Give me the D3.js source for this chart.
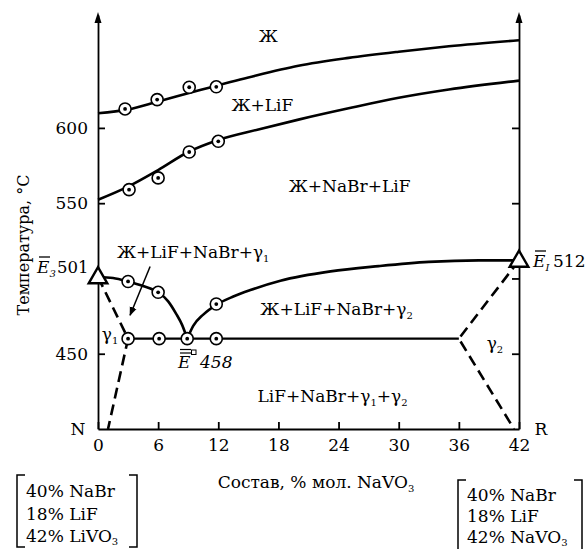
<!DOCTYPE html>
<html>
<head>
<meta charset="utf-8">
<script src="https://cdn.jsdelivr.net/npm/d3@7"></script>
<style>
  body { margin: 0; background: #fff; }
  svg text { font-family: "DejaVu Serif", "Liberation Serif", "Noto Serif", serif; fill: #000; }
</style>
</head>
<body>
<svg id="chart" width="588" height="549"></svg>
<script>
// состав, % мол. NaVO3 / температура, °C
var xTicks = [0, 6, 12, 18, 24, 30, 36, 42];
var yTicks = [450, 500, 550, 600];

// линии на диаграмме
var liquidusLiF = [[0, 609.7], [3, 612.3], [6, 617.6], [10, 624.8], [15, 633.5], [20, 641.3], [25, 646.5], [30, 650.6], [35, 654.2], [42, 658.2]];
var liquidusNaBr = [[0, 552.3], [3, 561], [6, 572], [9, 584], [12, 592], [16, 599], [20, 605.5], [25, 613], [30, 620], [35, 625.5], [42, 631.4]];
var curveE3 = [[0, 501], [1.5, 500.3], [3, 498], [4.5, 495], [6, 490.8], [7, 484.8], [7.8, 476.5], [8.4, 469], [8.9, 460]];
var curveE1 = [[8.9, 460], [9.5, 468.5], [10.5, 476], [11.8, 482.5], [13.5, 488], [15.2, 492.3], [18.2, 498.5], [23.2, 504.7], [28, 508.2], [33, 511], [38, 512], [42, 512]];
var eutecticLine = [[3, 460], [36, 460]];
var dashLeft = [[0, 501], [3, 460], [1, 400]];
var dashRight = [[42, 512], [36, 460], [41.5, 400]];

// экспериментальные точки
var pointsLiF = [[2.7, 612.6], [5.9, 618.8], [9.1, 627], [11.8, 627.3]];
var pointsNaBr = [[3.1, 559], [6, 566.8], [9.1, 584], [12, 591.1]];
var pointsLow = [[3, 498], [6, 490.8], [11.8, 483], [3, 460], [6.1, 460], [8.9, 460], [11.8, 460]];

// тройные эвтектики на сторонах
var sideEutectics = [[0, 501], [42, 512]];
var arrowLine = [[5.2, 508], [3.2, 475.6]];

var FS = 17, SUB = 10;

var svg = d3.select("#chart");
var x = d3.scaleLinear().domain([0, 42]).range([98, 519]);
var y = d3.scaleLinear().domain([400, 675]).range([429, 15]);

var straight = d3.line().x(d => x(d[0])).y(d => y(d[1]));
var smooth = d3.line().x(d => x(d[0])).y(d => y(d[1])).curve(d3.curveMonotoneX);

svg.append("defs").append("marker")
    .attr("id", "arr").attr("viewBox", "0 0 10 10").attr("refX", 9).attr("refY", 5)
    .attr("markerWidth", 9).attr("markerHeight", 9).attr("markerUnits", "userSpaceOnUse")
    .attr("orient", "auto")
  .append("path").attr("d", "M0,1 L10,5 L0,9 Z").attr("fill", "#000");

// оси
function styleAxis(g) {
  g.attr("font-size", null).attr("font-family", null);
  g.selectAll("path, line").attr("stroke", "#000").attr("stroke-width", 1.8);
  g.selectAll("text").style("font-size", FS + "px");
}
svg.append("g").attr("transform", "translate(0," + y(400) + ")")
    .call(d3.axisBottom(x).tickValues(xTicks).tickSizeInner(-7).tickSizeOuter(0).tickPadding(10))
    .call(styleAxis);
svg.append("g").attr("transform", "translate(" + x(0) + ",0)")
    .call(d3.axisLeft(y).tickValues(yTicks).tickSizeInner(-7).tickSizeOuter(0).tickPadding(10)
      .tickFormat(d => d === 500 ? "" : d))
    .call(styleAxis);
svg.append("g").attr("transform", "translate(" + x(42) + ",0)")
    .call(d3.axisRight(y).tickValues(yTicks).tickSizeInner(-7).tickSizeOuter(0).tickFormat(""))
    .call(styleAxis);
[0, 42].forEach(function (v) {
  var cx = x(v);
  svg.append("path").attr("d", "M" + cx + ",12 L" + (cx - 3.5) + ",23 L" + (cx + 3.5) + ",23 Z").attr("fill", "#000");
});

// кривые
[liquidusLiF, liquidusNaBr, curveE3, curveE1].forEach(function (c) {
  svg.append("path").attr("d", smooth(c)).attr("fill", "none").attr("stroke", "#000").attr("stroke-width", 2.6);
});
svg.append("path").attr("d", straight(eutecticLine)).attr("fill", "none").attr("stroke", "#000").attr("stroke-width", 2.4);
[dashLeft, dashRight].forEach(function (c) {
  svg.append("path").attr("d", straight(c)).attr("fill", "none").attr("stroke", "#000")
    .attr("stroke-width", 2.6).attr("stroke-dasharray", "11,6");
});
svg.append("path").attr("d", straight(arrowLine)).attr("stroke", "#000").attr("stroke-width", 1.5)
  .attr("marker-end", "url(#arr)");

// точки
var pts = svg.append("g").selectAll("g").data(pointsLiF.concat(pointsNaBr, pointsLow)).join("g")
  .attr("transform", d => "translate(" + x(d[0]) + "," + y(d[1]) + ")");
pts.append("circle").attr("r", 6).attr("fill", "#fff").attr("stroke", "#000").attr("stroke-width", 1.6);
pts.append("circle").attr("r", 1.9).attr("fill", "#000");

svg.append("g").selectAll("path").data(sideEutectics).join("path")
  .attr("d", d3.symbol(d3.symbolTriangle, 150))
  .attr("transform", d => "translate(" + x(d[0]) + "," + (y(d[1]) + 1) + ")")
  .attr("fill", "#fff").attr("stroke", "#000").attr("stroke-width", 2.4);

// подписи полей
function label(px, py, parts, anchor) {
  var t = svg.append("text").attr("x", px).attr("y", py).attr("font-size", FS)
    .attr("text-anchor", anchor || "middle");
  var low = false;
  parts.forEach(function (p) {
    if (typeof p === "string") {
      t.append("tspan").attr("dy", low ? -4 : 0).text(p);
      low = false;
    } else {
      t.append("tspan").attr("font-size", SUB).attr("dy", 4).text(p.sub);
      low = true;
    }
  });
  return t;
}
label(x(17), y(657), ["Ж"]);
label(x(16.4), y(611), ["Ж+LiF"]);
label(x(25.1), y(557.6), ["Ж+NaBr+LiF"]);
label(x(9.5), y(513.8), ["Ж+LiF+NaBr+γ", {sub: "1"}]);
label(x(23.8), y(476), ["Ж+LiF+NaBr+γ", {sub: "2"}]);
label(x(23.4), y(417.7), ["LiF+NaBr+γ", {sub: "1"}, "+γ", {sub: "2"}]);
label(x(1.2), y(459), ["γ", {sub: "1"}]);
label(x(39.6), y(453), ["γ", {sub: "2"}]);
label(x(0) - 20, y(400) + 6, ["N"]);
label(x(42) + 22, y(400) + 6, ["R"]);

// обозначения эвтектик
var e3 = svg.append("text").attr("x", 37).attr("y", 273).attr("font-size", FS);
e3.append("tspan").attr("font-style", "italic").text("E");
e3.append("tspan").attr("font-style", "italic").attr("font-size", SUB).attr("dy", 4).text("3");
e3.append("tspan").attr("x", 57).attr("dy", -4).attr("font-size", 16.5).text("501");
svg.append("line").attr("x1", 39).attr("x2", 50).attr("y1", 257).attr("y2", 257).attr("stroke", "#000").attr("stroke-width", 1.3);

var e1 = svg.append("text").attr("x", 533).attr("y", 267).attr("font-size", FS);
e1.append("tspan").attr("font-style", "italic").text("E");
e1.append("tspan").attr("font-style", "italic").attr("font-size", SUB).attr("dy", 4).text("I");
e1.append("tspan").attr("x", 553).attr("dy", -4).text("512");
svg.append("line").attr("x1", 535).attr("x2", 546).attr("y1", 251).attr("y2", 251).attr("stroke", "#000").attr("stroke-width", 1.3);

var ee = svg.append("text").attr("x", 178).attr("y", 368).attr("font-size", FS).attr("font-style", "italic");
ee.append("tspan").text("E");
ee.append("tspan").attr("x", 200).text("458");
[349.5, 353].forEach(function (yy) {
  svg.append("line").attr("x1", 180).attr("x2", 191).attr("y1", yy).attr("y2", yy).attr("stroke", "#000").attr("stroke-width", 1.2);
});
svg.append("rect").attr("x", 191.5).attr("y", 350).attr("width", 4.5).attr("height", 4.5)
  .attr("fill", "#fff").attr("stroke", "#000").attr("stroke-width", 1);

// подписи осей
svg.append("text").attr("transform", "translate(29,245) rotate(-90)").attr("text-anchor", "middle")
  .attr("font-size", 16).text("Температура, °С");
var xt = svg.append("text").attr("x", 316).attr("y", 488).attr("text-anchor", "middle").attr("font-size", FS);
xt.append("tspan").text("Состав, % мол. NaVO");
xt.append("tspan").attr("font-size", SUB).attr("dy", 4).text("3");

// исходные составы
function bracketBox(x0, x1, y0, y1, tx, lines) {
  var d = "M" + (x0 + 8) + "," + y0 + " H" + x0 + " V" + y1 + " H" + (x0 + 8) +
          " M" + (x1 - 8) + "," + y0 + " H" + x1 + " V" + y1 + " H" + (x1 - 8);
  svg.append("path").attr("d", d).attr("fill", "none").attr("stroke", "#000").attr("stroke-width", 1.5);
  lines.forEach(function (l) {
    var t = svg.append("text").attr("x", tx).attr("y", l.y).attr("font-size", FS);
    t.append("tspan").text(l.main);
    if (l.sub) t.append("tspan").attr("font-size", SUB).attr("dy", 3).text(l.sub);
  });
}
bracketBox(17, 137, 475, 547, 26, [
  {main: "40% NaBr", y: 497}, {main: "18% LiF", y: 520}, {main: "42% LiVO", sub: "3", y: 542}]);
bracketBox(458, 582, 480, 555, 467, [
  {main: "40% NaBr", y: 501}, {main: "18% LiF", y: 522}, {main: "42% NaVO", sub: "3", y: 543}]);
</script>
</body>
</html>
